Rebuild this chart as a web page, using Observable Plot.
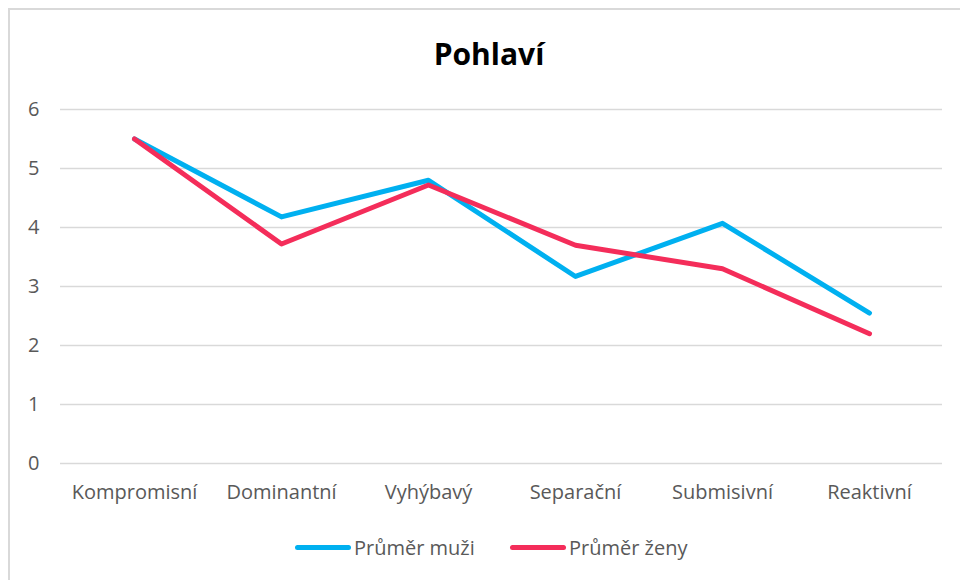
<!DOCTYPE html>
<html>
<head>
<meta charset="utf-8">
<script src="https://cdn.jsdelivr.net/npm/d3@7"></script>
<script src="https://cdn.jsdelivr.net/npm/@observablehq/plot@0.6"></script>
<style>
  html, body { margin: 0; padding: 0; width: 960px; height: 580px; overflow: hidden; background: #fff; }
  #frame { position: absolute; left: 8px; top: 8px; width: 1000px; height: 700px; border: 2px solid #d9d9d9; box-sizing: border-box; }
  #title { position: absolute; left: 0; width: 978px; top: 33px; text-align: center; font-family: "Open Sans", sans-serif; font-weight: bold; font-size: 30px; color: #000; }
  #chart { position: absolute; left: 0; top: 0; }
  #chart svg text { font-size: 20px; }
  #legend { position: absolute; top: 534px; left: 0; width: 960px; font-family: "Open Sans", sans-serif; font-size: 20px; color: #595959; }
  .item { position: absolute; display: flex; align-items: center; }
  .sw { width: 56px; height: 5px; border-radius: 3px; margin-right: 3px; }
</style>
</head>
<body>
<div id="frame"></div>
<div id="chart"></div>
<div id="title">Pohlaví</div>
<div id="legend"></div>
<script>
const categories = ["Kompromisní", "Dominantní", "Vyhýbavý", "Separační", "Submisivní", "Reaktivní"];
const seriesNames = ["Průměr muži", "Průměr ženy"];
const muzi = [5.50, 4.18, 4.80, 3.17, 4.07, 2.55];
const zeny = [5.50, 3.72, 4.72, 3.70, 3.30, 2.20];
const yTicks = [0, 1, 2, 3, 4, 5, 6];
const colors = ["#00b0f0", "#f42d5a"];

const data = [];
categories.forEach((c, i) => {
  data.push({category: c, value: muzi[i], series: seriesNames[0]});
  data.push({category: c, value: zeny[i], series: seriesNames[1]});
});

const chart = Plot.plot({
  width: 960,
  height: 580,
  marginTop: 109,
  marginBottom: 117,
  marginLeft: 60,
  marginRight: 18,
  style: { fontFamily: "'Open Sans', sans-serif", fontSize: "20px", color: "#595959", background: "transparent" },
  x: { type: "point", domain: categories, padding: 0.5, label: null },
  y: { domain: [0, 6], ticks: yTicks, label: null },
  color: { domain: seriesNames, range: colors },
  marks: [
    Plot.gridY(yTicks, { stroke: "#d9d9d9", strokeOpacity: 1, strokeWidth: 1.5 }),
    Plot.axisY(yTicks, { tickSize: 0, tickPadding: 21, tickFormat: "d", fill: "#595959", label: null }),
    Plot.axisX({ tickSize: 0, tickPadding: 21, fill: "#595959", label: null }),
    Plot.line(data, { x: "category", y: "value", z: "series", stroke: "series", strokeWidth: 5, strokeLinejoin: "round", strokeLinecap: "round" })
  ]
});
document.getElementById("chart").appendChild(chart);

const legend = document.getElementById("legend");
const lefts = [295, 510];
seriesNames.forEach((name, i) => {
  const item = document.createElement("div");
  item.className = "item";
  item.style.left = lefts[i] + "px";
  const sw = document.createElement("div");
  sw.className = "sw";
  sw.style.background = colors[i];
  const t = document.createElement("span");
  t.textContent = name;
  item.appendChild(sw);
  item.appendChild(t);
  legend.appendChild(item);
});
</script>
</body>
</html>
